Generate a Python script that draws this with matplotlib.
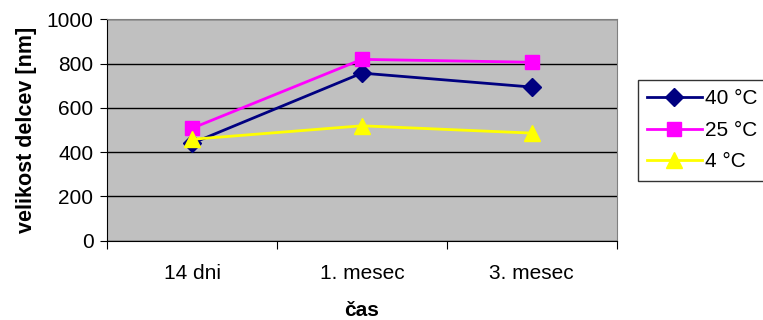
import matplotlib
matplotlib.use("Agg")
import matplotlib.pyplot as plt

# Podatki odčitani z grafa
kategorije = ['14 dni', '1. mesec', '3. mesec']
t40 = [440, 757, 694]
t25 = [508, 819, 806]
t4 = [458, 519, 486]
oznake = ['40 °C', '25 °C', '4 °C']

plt.rcParams['font.family'] = ['Liberation Sans', 'DejaVu Sans']
fs = 15

fig = plt.figure(figsize=(7.63, 3.2), dpi=100)
ax = fig.add_axes([0.1406, 0.2478, 0.808 - 0.1406, 0.9397 - 0.2478])
ax.set_facecolor('#c0c0c0')

x = range(len(kategorije))
ax.plot(x, t40, color='#000080', marker='D', markersize=9, linewidth=2, label=oznake[0], zorder=3)
ax.plot(x, t25, color='#ff00ff', marker='s', markersize=10, linewidth=2, label=oznake[1], zorder=4)
ax.plot(x, t4, color='#ffff00', marker='^', markersize=12, linewidth=2, label=oznake[2], zorder=5)

ax.set_xlim(-0.5, 2.5)
ax.set_ylim(0, 1000)
ax.set_yticks(range(0, 1001, 200))
ax.yaxis.grid(True, color='black', linewidth=1)
ax.set_axisbelow(True)

# kljukice med kategorijami, oznake na sredini
ax.set_xticks([-0.5, 0.5, 1.5, 2.5])
ax.set_xticklabels([])
ax.set_xticks(list(x), minor=True)
ax.set_xticklabels(kategorije, minor=True)
ax.tick_params(axis='x', which='major', direction='out', length=6, color='black')
ax.tick_params(axis='x', which='minor', length=0, pad=17, labelsize=fs)
ax.tick_params(axis='y', direction='out', length=5, labelsize=fs, pad=5)

for s in ['top', 'right']:
    ax.spines[s].set_color('#808080')
for s in ['left', 'bottom']:
    ax.spines[s].set_color('black')

ax.set_ylabel('velikost delcev [nm]', fontsize=fs + 0.5, fontweight='bold', labelpad=7)
ax.set_xlabel('čas', fontsize=fs, fontweight='bold', labelpad=13)

leg = fig.legend(loc='upper left', bbox_to_anchor=(638 / 763, 1 - 80 / 320),
                 fontsize=fs, frameon=True, fancybox=False, handlelength=2.6,
                 borderpad=0.45, labelspacing=0.6, handletextpad=0.15, borderaxespad=0)
leg.get_frame().set_edgecolor('black')
leg.get_frame().set_linewidth(1)

fig.savefig('out.png', dpi=100)
